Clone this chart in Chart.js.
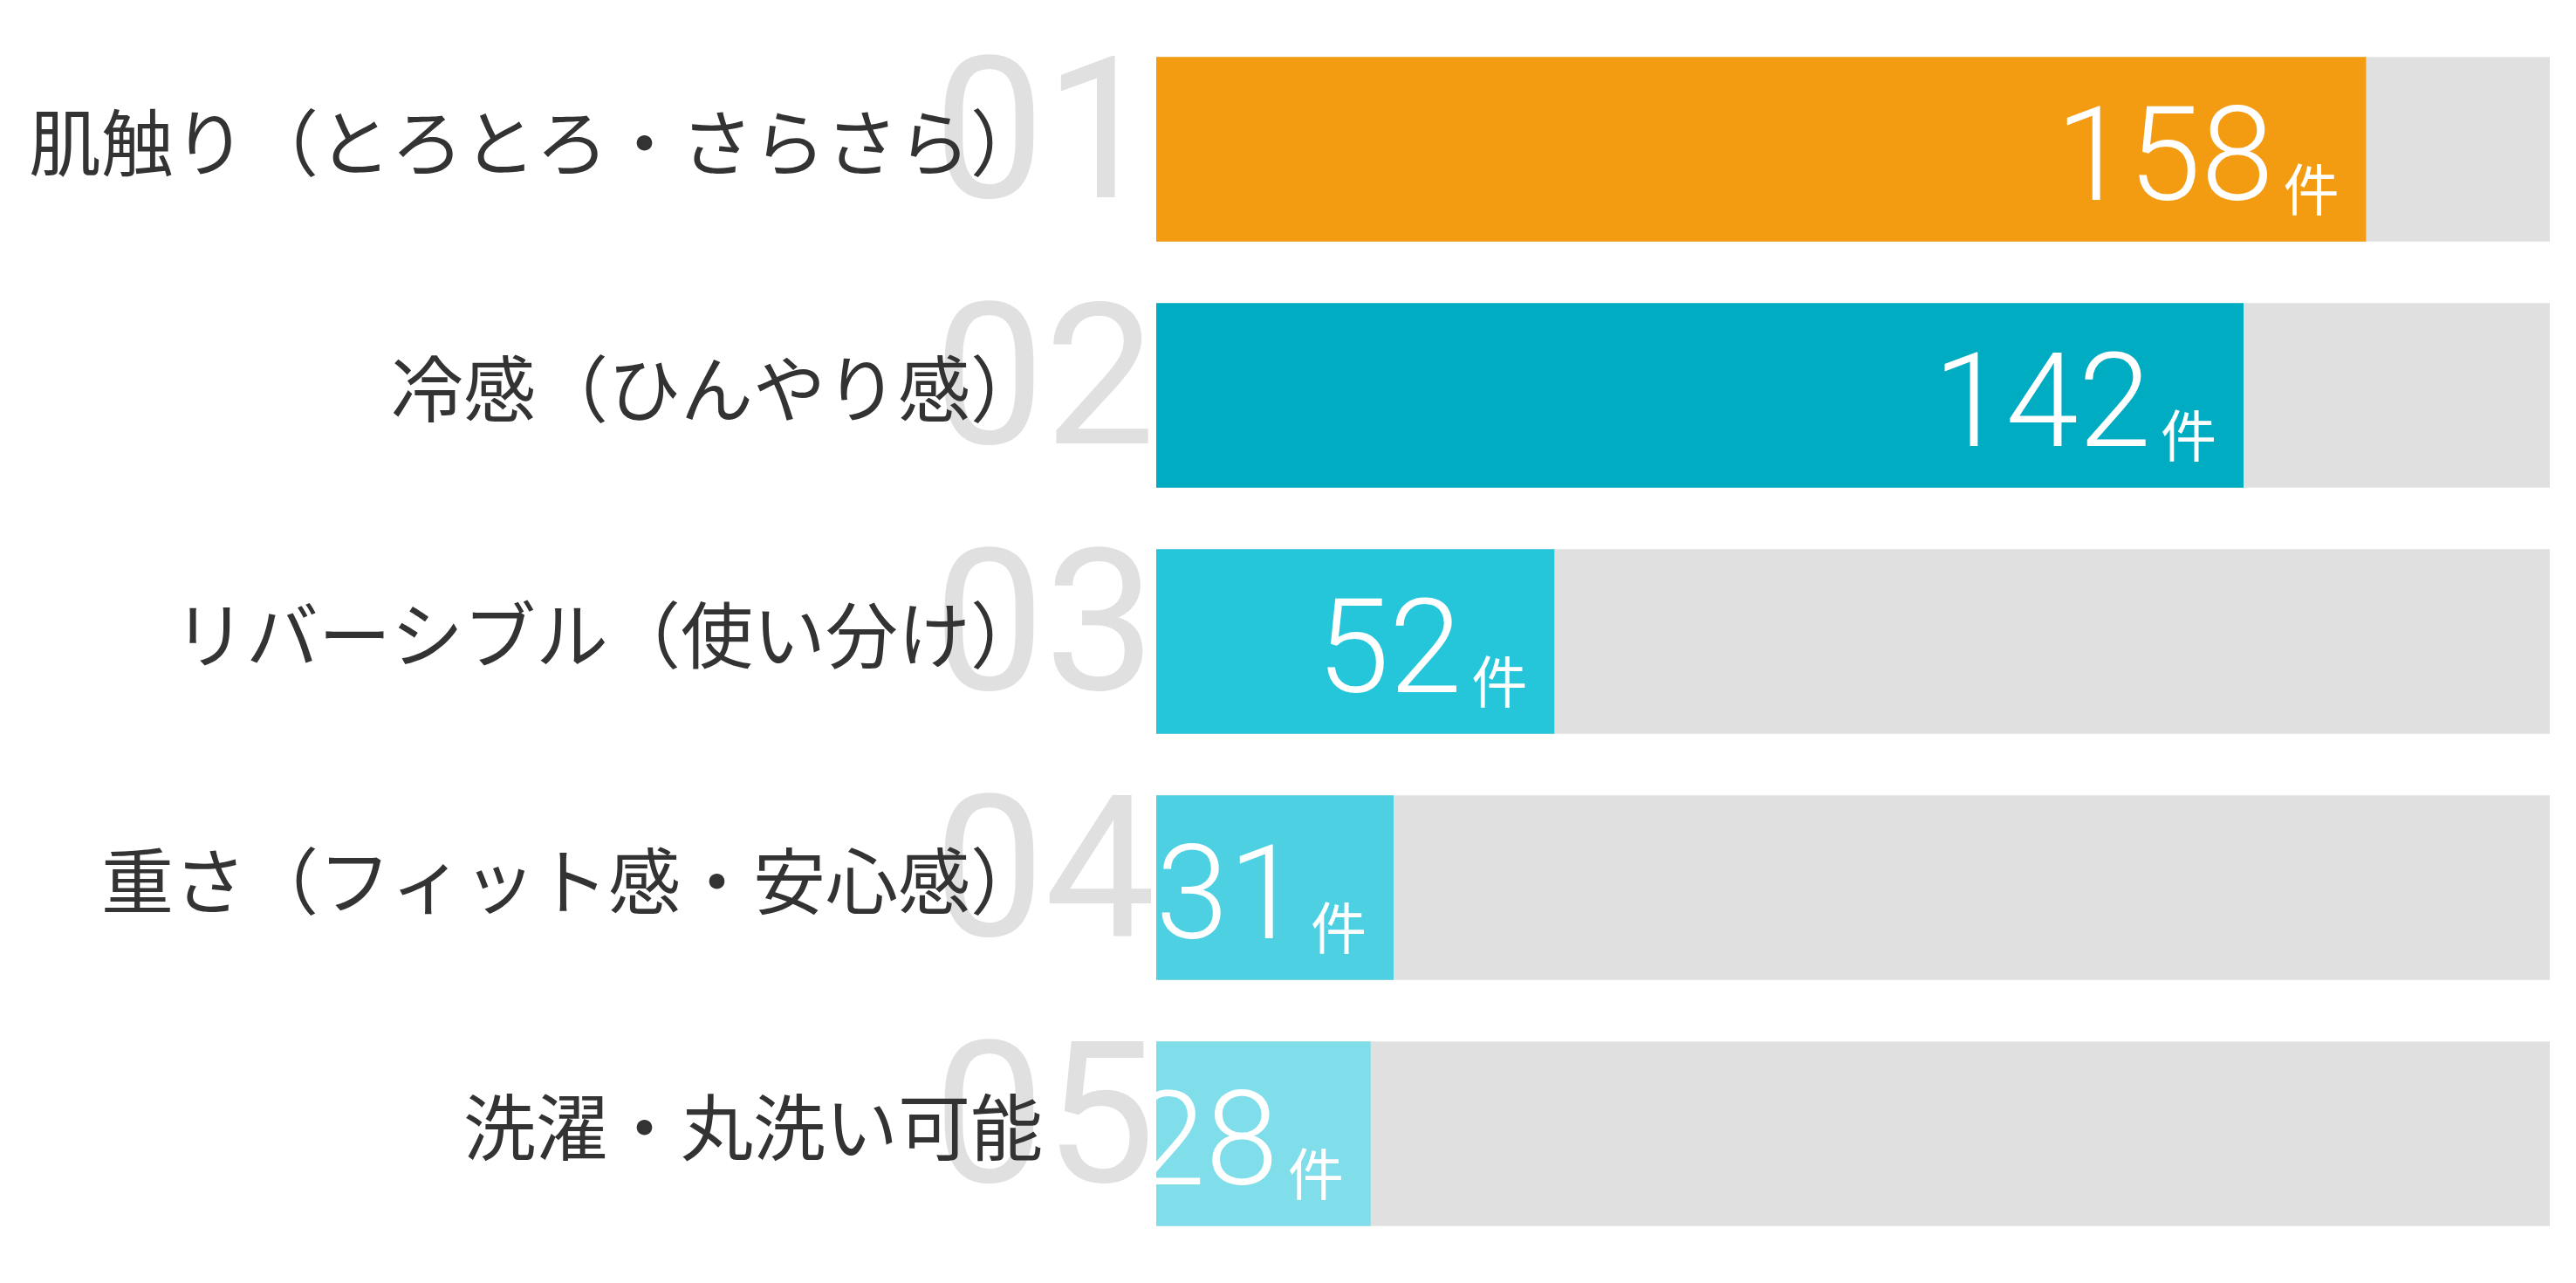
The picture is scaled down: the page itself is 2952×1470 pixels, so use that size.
<!DOCTYPE html>
<html lang="ja">
<head>
<meta charset="utf-8">
<title>ランキング</title>
<script src="https://cdn.jsdelivr.net/npm/chart.js@4"></script>
<style>
  html, body { margin: 0; padding: 0; background: #fff; }
  #wrap { width: 2952px; height: 1470px; position: relative; }
</style>
</head>
<body>
<div id="wrap"><canvas id="chart"></canvas></div>
<script>
const categories = [
  "肌触り（とろとろ・さらさら）",
  "冷感（ひんやり感）",
  "リバーシブル（使い分け）",
  "重さ（フィット感・安心感）",
  "洗濯・丸洗い可能"
];
const ranks = ["01", "02", "03", "04", "05"];
const counts = [158, 142, 52, 31, 28];
const trackMax = 182;
const unit = "件";
const barColors = ["#F39C12", "#00ACC1", "#26C6DA", "#4DD0E1", "#80DEEA"];
const trackColor = "#E0E0E0";

// rank numbers, category names and value labels
const rankingLabels = {
  id: "rankingLabels",
  afterDatasetsDraw(chart) {
    const ctx = chart.ctx;
    const area = chart.chartArea;
    const yScale = chart.scales.y;
    const xScale = chart.scales.x;

    ctx.save();
    categories.forEach((name, i) => {
      const cy = yScale.getPixelForValue(i);

      // big gray rank number
      ctx.font = "400 226px Roboto";
      ctx.fillStyle = "#E0E0E0";
      ctx.textAlign = "right";
      ctx.textBaseline = "alphabetic";
      ctx.fillText(ranks[i], area.left - 1, cy + 55);

      // category name
      ctx.font = '400 83px "Noto Sans CJK JP"';
      ctx.fillStyle = "#333333";
      ctx.textAlign = "right";
      ctx.textBaseline = "middle";
      ctx.fillText(name, area.left - 130, cy - 8);
    });
    ctx.restore();

    // value labels, clipped to the plot area
    ctx.save();
    ctx.beginPath();
    ctx.rect(area.left, area.top, area.right - area.left, area.bottom - area.top);
    ctx.clip();
    counts.forEach((v, i) => {
      const cy = yScale.getPixelForValue(i);
      const end = xScale.getPixelForValue(v);
      ctx.fillStyle = "#FFFFFF";
      ctx.textBaseline = "alphabetic";
      ctx.textAlign = "right";
      ctx.font = '400 64px "Noto Sans CJK JP"';
      ctx.fillText(unit, end - 31, cy + 70);
      ctx.font = "300 150px Roboto";
      ctx.fillText(String(v), end - 106, cy + 58);
    });
    ctx.restore();
  }
};

const ctx = document.getElementById("chart").getContext("2d");
new Chart(ctx, {
  type: "bar",
  data: {
    labels: categories,
    datasets: [
      {
        label: "件数",
        data: counts,
        backgroundColor: barColors,
        borderWidth: 0,
        grouped: false,
        barPercentage: 0.75,
        categoryPercentage: 1
      },
      {
        label: "track",
        data: categories.map(() => trackMax),
        backgroundColor: trackColor,
        borderWidth: 0,
        grouped: false,
        barPercentage: 0.75,
        categoryPercentage: 1
      }
    ]
  },
  options: {
    indexAxis: "y",
    responsive: true,
    maintainAspectRatio: false,
    animation: false,
    layout: {
      padding: { left: 1325, right: 30, top: 30, bottom: 30 }
    },
    plugins: {
      legend: { display: false },
      tooltip: { enabled: false }
    },
    scales: {
      x: { display: false, min: 0, max: trackMax },
      y: { display: false }
    }
  },
  plugins: [rankingLabels]
});
</script>
</body>
</html>
